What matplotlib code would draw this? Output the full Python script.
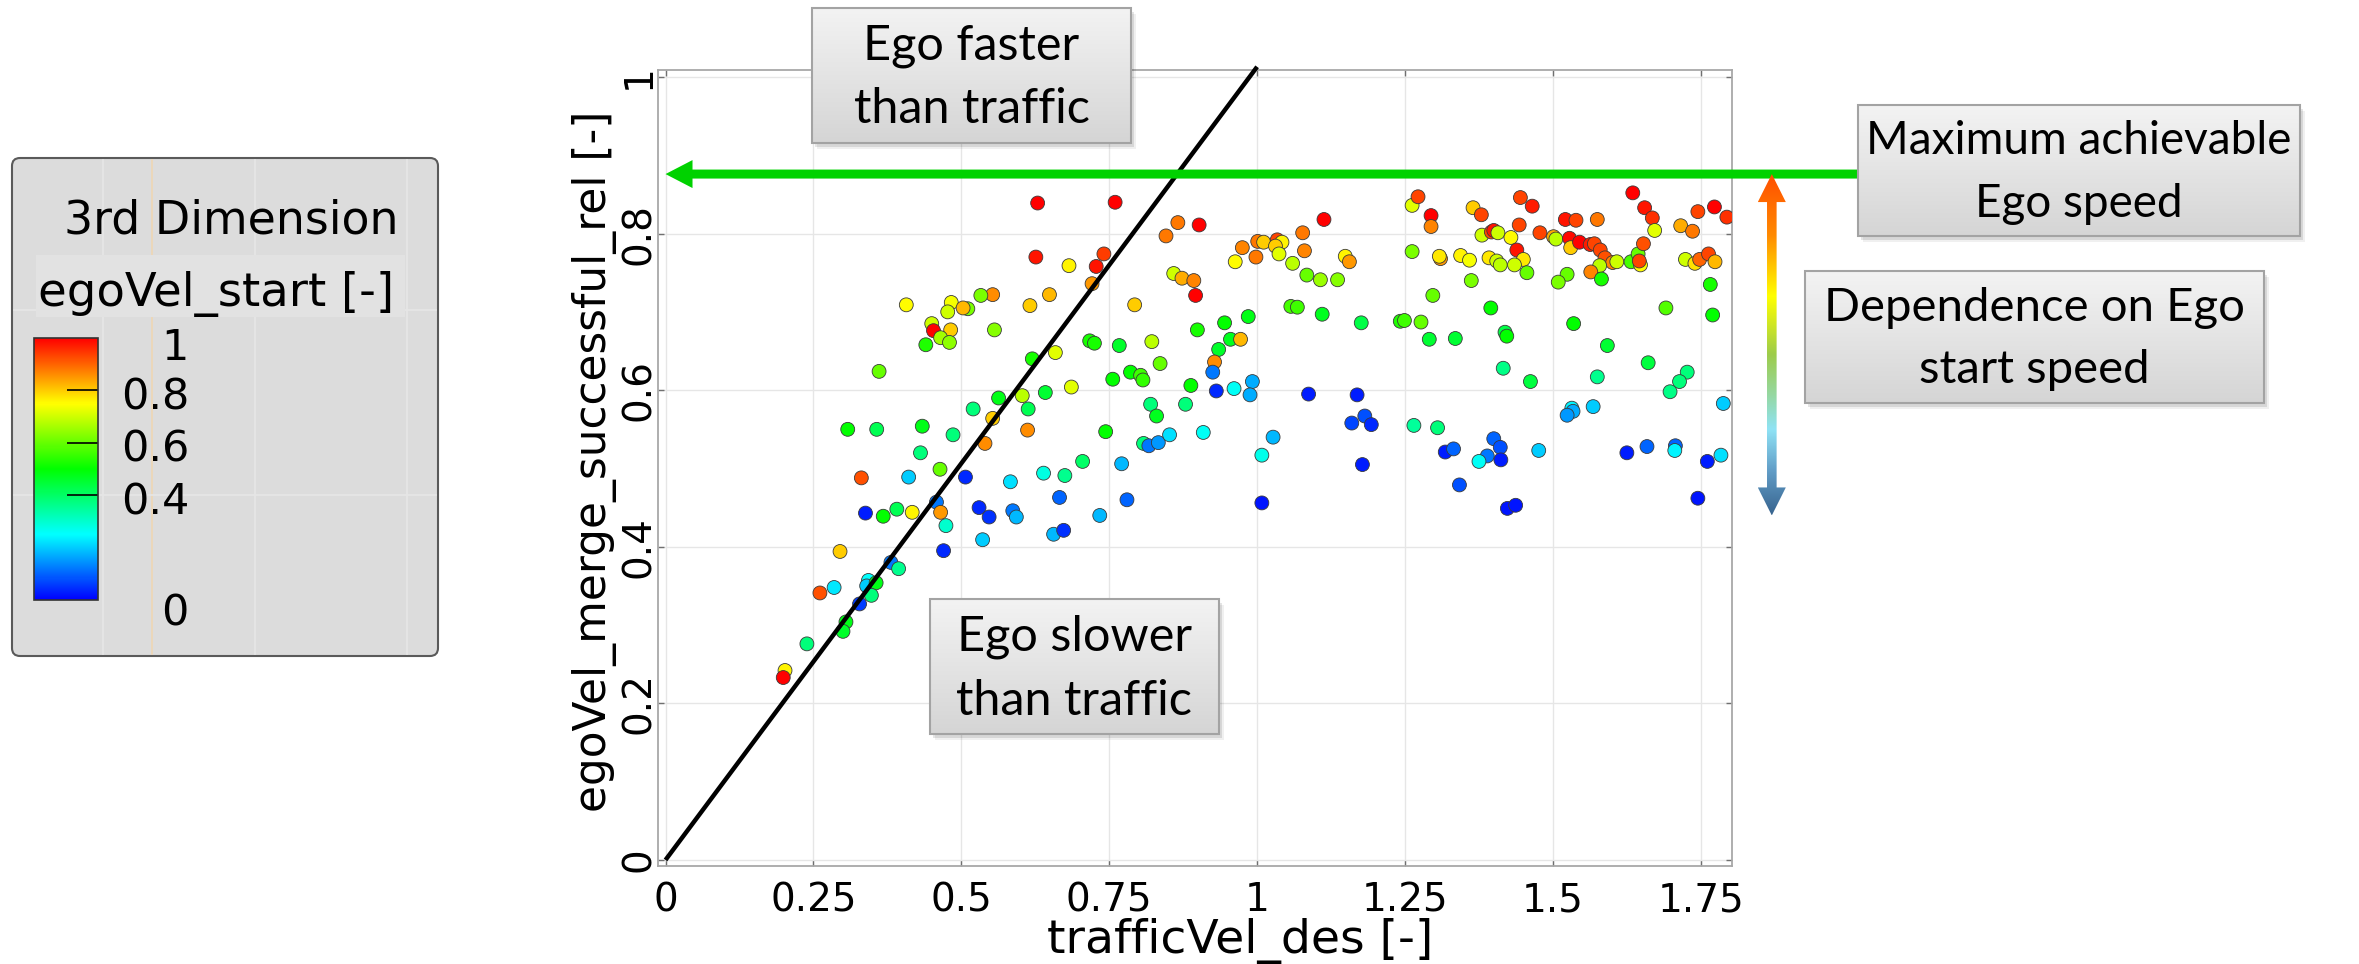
import numpy as np
import matplotlib
matplotlib.use('Agg')
import matplotlib.pyplot as plt
import matplotlib.transforms as mtransforms
from matplotlib.colors import LinearSegmentedColormap
from matplotlib.patches import Rectangle, FancyBboxPatch, FancyArrow, Polygon

plt.rcParams['font.family'] = ['DejaVu Sans']

W, H = 2359, 964

# ---- data ----
traffic_vel = [
    0.629, 0.626, 0.682, 0.728, 0.741, 0.721, 0.649, 0.616, 0.553, 0.533,
    0.407, 0.483, 0.477, 0.511, 0.503, 0.450, 0.453, 0.482, 0.465, 0.480,
    0.440, 0.556, 0.361, 0.717, 0.725, 0.620, 0.659, 0.686, 0.642, 0.603,
    0.563, 0.520, 0.613, 0.553, 0.612, 0.540, 0.308, 0.357, 0.434, 0.486,
    0.431, 0.464, 0.705, 0.639, 0.744,
    0.760, 0.866, 0.846, 0.902, 0.859, 0.873, 0.893, 0.896, 0.793, 0.767,
    0.822, 0.836, 0.756, 0.786, 0.803, 0.807, 0.899, 0.945, 0.985, 0.955,
    0.972, 0.935, 0.928, 0.925, 0.888, 0.931, 0.961, 0.992, 0.988, 1.087,
    1.169, 1.160, 1.182, 1.193, 1.178, 1.265, 0.820, 0.830, 0.879, 0.808,
    0.817, 0.833, 0.852, 0.909, 1.027, 1.008, 0.771, 0.963, 0.975, 0.998,
    1.001, 1.011, 1.034, 1.042, 1.031, 1.037, 1.060, 1.077, 1.080, 1.113,
    1.084, 1.107, 1.136, 1.057, 1.068, 1.110, 1.176, 1.149, 1.156, 1.242,
    1.249, 1.277, 1.262, 1.262, 1.272,
    1.294, 1.294, 1.297, 1.291, 1.310, 1.308, 1.344, 1.359, 1.365, 1.379,
    1.380, 1.396, 1.400, 1.407, 1.429, 1.443, 1.445, 1.465, 1.439, 1.450,
    1.392, 1.405, 1.411, 1.435, 1.456, 1.362, 1.478, 1.501, 1.505, 1.521,
    1.539, 1.575, 1.528, 1.530, 1.545, 1.563, 1.570, 1.580, 1.588, 1.601,
    1.579, 1.608, 1.564, 1.582, 1.524, 1.509, 1.632, 1.644, 1.648, 1.646,
    1.653, 1.635, 1.655, 1.668, 1.672, 1.716, 1.736, 1.745, 1.773, 1.794,
    1.724, 1.740, 1.748, 1.763, 1.774, 1.766, 1.770, 1.691, 1.395, 1.535,
    1.335, 1.419, 1.422, 1.592, 1.661, 1.416, 1.462, 1.575, 1.727, 1.714,
    1.698, 1.788, 1.305, 1.318, 1.332, 1.400, 1.411, 1.389, 1.375, 1.412,
    1.476, 1.532, 1.534, 1.524, 1.568, 1.625, 1.659, 1.707, 1.706, 1.761,
    1.784,
    1.342, 1.423, 1.437, 1.745, 0.780, 1.008,
    0.331, 0.411, 0.507, 0.583, 0.675, 0.666, 0.338, 0.368, 0.391, 0.417,
    0.458, 0.465, 0.474, 0.470, 0.530, 0.547, 0.587, 0.593, 0.536, 0.656,
    0.673, 0.734, 0.295, 0.261, 0.285, 0.381, 0.394, 0.343, 0.340, 0.356,
    0.348, 0.328, 0.305, 0.300, 0.239, 0.202, 0.199,
]
ego_vel_merge = [
    0.839, 0.770, 0.759, 0.758, 0.774, 0.736, 0.722, 0.708, 0.722, 0.721,
    0.709, 0.712, 0.700, 0.704, 0.705, 0.685, 0.676, 0.677, 0.667, 0.661,
    0.658, 0.677, 0.624, 0.663, 0.660, 0.640, 0.648, 0.604, 0.597, 0.593,
    0.590, 0.576, 0.576, 0.564, 0.549, 0.532, 0.550, 0.550, 0.554, 0.543,
    0.520, 0.499, 0.509, 0.494, 0.547,
    0.840, 0.814, 0.797, 0.811, 0.749, 0.743, 0.740, 0.721, 0.709, 0.657,
    0.662, 0.634, 0.614, 0.623, 0.619, 0.613, 0.677, 0.686, 0.694, 0.665,
    0.665, 0.652, 0.636, 0.623, 0.606, 0.599, 0.602, 0.611, 0.594, 0.595,
    0.594, 0.558, 0.567, 0.556, 0.505, 0.555, 0.582, 0.567, 0.582, 0.532,
    0.529, 0.533, 0.543, 0.546, 0.540, 0.517, 0.506, 0.764, 0.782, 0.770,
    0.790, 0.789, 0.792, 0.789, 0.784, 0.774, 0.762, 0.801, 0.778, 0.818,
    0.747, 0.741, 0.741, 0.707, 0.706, 0.697, 0.686, 0.771, 0.764, 0.688,
    0.689, 0.687, 0.777, 0.836, 0.847,
    0.823, 0.809, 0.721, 0.665, 0.768, 0.771, 0.772, 0.766, 0.833, 0.824,
    0.798, 0.802, 0.804, 0.801, 0.795, 0.811, 0.846, 0.835, 0.779, 0.767,
    0.769, 0.765, 0.760, 0.760, 0.750, 0.740, 0.801, 0.796, 0.793, 0.818,
    0.817, 0.818, 0.794, 0.782, 0.789, 0.786, 0.787, 0.779, 0.769, 0.763,
    0.759, 0.764, 0.751, 0.742, 0.748, 0.738, 0.764, 0.774, 0.760, 0.765,
    0.787, 0.852, 0.833, 0.820, 0.804, 0.810, 0.803, 0.828, 0.834, 0.821,
    0.767, 0.762, 0.767, 0.774, 0.764, 0.735, 0.696, 0.705, 0.705, 0.685,
    0.666, 0.674, 0.669, 0.657, 0.635, 0.628, 0.611, 0.617, 0.623, 0.611,
    0.598, 0.583, 0.552, 0.521, 0.525, 0.538, 0.527, 0.516, 0.509, 0.511,
    0.523, 0.577, 0.573, 0.568, 0.579, 0.520, 0.528, 0.529, 0.523, 0.509,
    0.517,
    0.479, 0.449, 0.453, 0.462, 0.460, 0.456,
    0.488, 0.489, 0.489, 0.483, 0.491, 0.463, 0.443, 0.439, 0.448, 0.444,
    0.457, 0.444, 0.427, 0.395, 0.450, 0.438, 0.446, 0.438, 0.409, 0.416,
    0.421, 0.440, 0.394, 0.341, 0.348, 0.380, 0.372, 0.357, 0.350, 0.354,
    0.338, 0.327, 0.304, 0.292, 0.276, 0.242, 0.233,
]
ego_vel_start = [
    1.00, 0.98, 0.76, 0.98, 0.94, 0.85, 0.82, 0.80, 0.86, 0.62,
    0.75, 0.74, 0.70, 0.62, 0.82, 0.70, 1.00, 0.80, 0.66, 0.64,
    0.53, 0.63, 0.60, 0.52, 0.52, 0.52, 0.72, 0.72, 0.45, 0.68,
    0.48, 0.38, 0.42, 0.80, 0.86, 0.86, 0.50, 0.42, 0.48, 0.38,
    0.38, 0.60, 0.40, 0.28, 0.50,
    1.00, 0.88, 0.88, 1.00, 0.70, 0.83, 0.87, 1.00, 0.80, 0.46,
    0.68, 0.60, 0.50, 0.50, 0.56, 0.55, 0.52, 0.50, 0.48, 0.47,
    0.82, 0.46, 0.86, 0.12, 0.50, 0.04, 0.26, 0.17, 0.17, 0.03,
    0.03, 0.07, 0.08, 0.04, 0.03, 0.35, 0.38, 0.47, 0.38, 0.38,
    0.12, 0.15, 0.22, 0.26, 0.18, 0.27, 0.18, 0.75, 0.87, 0.88,
    0.88, 0.80, 0.93, 0.76, 0.80, 0.72, 0.68, 0.88, 0.87, 1.00,
    0.60, 0.65, 0.63, 0.57, 0.56, 0.47, 0.43, 0.76, 0.85, 0.53,
    0.56, 0.60, 0.62, 0.72, 0.93,
    1.00, 0.87, 0.60, 0.45, 0.85, 0.77, 0.76, 0.74, 0.80, 0.93,
    0.70, 0.93, 0.98, 0.70, 0.75, 0.93, 0.93, 0.97, 0.98, 0.77,
    0.77, 0.70, 0.68, 0.70, 0.60, 0.62, 0.93, 0.83, 0.68, 0.98,
    0.93, 0.88, 0.99, 0.80, 1.00, 0.97, 0.93, 0.93, 0.92, 0.87,
    0.68, 0.70, 0.87, 0.52, 0.60, 0.62, 0.57, 0.60, 0.75, 0.93,
    0.92, 1.00, 0.98, 0.95, 0.72, 0.83, 0.88, 0.93, 1.00, 0.95,
    0.70, 0.78, 0.90, 0.93, 0.82, 0.52, 0.50, 0.58, 0.50, 0.50,
    0.45, 0.43, 0.50, 0.45, 0.44, 0.37, 0.44, 0.36, 0.38, 0.38,
    0.37, 0.20, 0.38, 0.03, 0.10, 0.10, 0.08, 0.12, 0.26, 0.03,
    0.20, 0.24, 0.17, 0.15, 0.20, 0.03, 0.10, 0.10, 0.24, 0.03,
    0.22,
    0.08, 0.02, 0.02, 0.02, 0.10, 0.02,
    0.92, 0.20, 0.04, 0.22, 0.36, 0.10, 0.03, 0.50, 0.42, 0.76,
    0.12, 0.85, 0.30, 0.04, 0.04, 0.05, 0.12, 0.18, 0.20, 0.18,
    0.05, 0.18, 0.80, 0.92, 0.23, 0.12, 0.36, 0.25, 0.20, 0.48,
    0.38, 0.06, 0.48, 0.46, 0.38, 0.76, 1.00,
]

x_ticks = [0, 0.25, 0.5, 0.75, 1, 1.25, 1.5, 1.75]
x_tick_labels = ['0', '0.25', '0.5', '0.75', '1', '1.25', '1.5', '1.75']
y_ticks = [0, 0.2, 0.4, 0.6, 0.8, 1]
y_tick_labels = ['0', '0.2', '0.4', '0.6', '0.8', '1']
cbar_ticks = [0.4, 0.6, 0.8]
cbar_label_values = [0, 0.4, 0.6, 0.8, 1]
cbar_labels = ['0', '0.4', '0.6', '0.8', '1']

diag_x = [0, 1.0]           # Ego speed == traffic speed reference line
diag_y = [0, 1.013]
max_ego_speed = 0.876       # green "maximum achievable" level
dep_low = 0.44              # lower end of the start-speed arrow
dep_x = 1.87                # x position of the start-speed arrow

rainbow = LinearSegmentedColormap.from_list(
    'rainbow5', ['#0000ff', '#00ffff', '#00ff00', '#ffff00', '#ff0000'])

fig = plt.figure(figsize=(W / 100, H / 100), dpi=100)

# ---- main scatter axes ----
ax = fig.add_axes([658 / W, 1 - 866 / H, (1732 - 658) / W, (866 - 70) / H], zorder=1)
ax.set_xlim(-0.0127, 1.8027)
ax.set_ylim(-0.0077, 1.0089)
ax.grid(True, color='#e6e6e6', lw=1)
ax.set_axisbelow(True)
ax.set_xticks(x_ticks)
ax.set_xticklabels(x_tick_labels)
ax.set_yticks(y_ticks)
ax.set_yticklabels(y_tick_labels, rotation=90, va='center')
ax.tick_params(direction='in', top=True, right=True, length=4, width=1,
               color='#707070', labelsize=28)
ax.tick_params(axis='x', pad=11)
ax.tick_params(axis='y', pad=0)
for s in ax.spines.values():
    s.set_color('#a8a8a8')
    s.set_linewidth(1.3)

sc = ax.scatter(traffic_vel, ego_vel_merge, c=ego_vel_start, cmap=rainbow,
                vmin=0, vmax=1, s=100, edgecolors='#3a3a3a', linewidths=0.6,
                zorder=3)
ax.plot(diag_x, diag_y, color='black', lw=3.2, zorder=4, clip_on=False,
        solid_capstyle='butt')

ax.set_xlabel('trafficVel_des [-]', fontsize=34)
ax.xaxis.set_label_coords(0.542, -0.0653)
ax.set_ylabel('egoVel_merge_successful_rel [-]', fontsize=31.5)
ax.yaxis.set_label_coords(-0.0385, 0.508)

# ---- overlay in pixel coords for boxes / arrows ----
ov = fig.add_axes([0, 0, 1, 1], zorder=2)
ov.patch.set_alpha(0)
ov.axis('off')


def to_px(x, y):
    dx, dy = ax.transData.transform((x, y))
    return dx, H - dy


box_cmap = LinearSegmentedColormap.from_list('boxgrad', ['#f3f3f3', '#d5d5d5'])
grad = np.linspace(0, 1, 64)[:, None]


def label_box(x0, y0, x1, y1, text, fs):
    w, h = x1 - x0, y1 - y0
    ov.add_patch(Rectangle((x0 + 5, y0 + 6), w, h, fc='black', alpha=0.06, lw=0, zorder=1))
    ov.add_patch(Rectangle((x0 + 3, y0 + 4), w, h, fc='black', alpha=0.10, lw=0, zorder=1))
    ov.imshow(grad, cmap=box_cmap, extent=(x0, x1, y1, y0), origin='upper',
              aspect='auto', interpolation='bilinear', zorder=2)
    ov.add_patch(Rectangle((x0, y0), w, h, fill=False, ec='#a3a3a3', lw=1.5, zorder=3))
    ls = 62 / (0.823 * fs * 100 / 72)
    ov.text((x0 + x1) / 2, (y0 + y1) / 2 + 2, text, ha='center', va='center',
            fontsize=fs, family='Lato', linespacing=ls, zorder=4)


# green "maximum achievable" arrow
gx_tip, gy = to_px(0, max_ego_speed)
ov.add_patch(FancyArrow(1858, gy, gx_tip - 1858, 0, width=9, head_width=28,
                        head_length=27, length_includes_head=True,
                        fc='#00d200', ec='none', zorder=1))

# gradient double arrow for start-speed dependence
ax_x, top_y = to_px(dep_x, max_ego_speed)
_, bot_y = to_px(dep_x, dep_low)
hw, sw, hl = 14, 4.8, 28
arrow_pts = [(ax_x, top_y), (ax_x + hw, top_y + hl), (ax_x + sw, top_y + hl),
             (ax_x + sw, bot_y - hl), (ax_x + hw, bot_y - hl), (ax_x, bot_y),
             (ax_x - hw, bot_y - hl), (ax_x - sw, bot_y - hl),
             (ax_x - sw, top_y + hl), (ax_x - hw, top_y + hl)]
arrow_poly = Polygon(arrow_pts, closed=True, fc='none', ec='none')
ov.add_patch(arrow_poly)
dep_cmap = LinearSegmentedColormap.from_list('dep', [
    (0.0, '#ff4e00'), (0.18, '#ff8a00'), (0.36, '#ffff00'), (0.53, '#9dcc4a'),
    (0.65, '#95d8a2'), (0.75, '#8fe3f5'), (0.87, '#629ec8'), (1.0, '#38648f')])
im = ov.imshow(np.linspace(0, 1, 256)[:, None], cmap=dep_cmap,
               extent=(ax_x - hw, ax_x + hw, bot_y, top_y), origin='upper',
               aspect='auto', interpolation='bilinear', zorder=2)
im.set_clip_path(arrow_poly)

label_box(812, 8, 1131, 143, 'Ego faster\nthan traffic', 35)
label_box(930, 599, 1219, 734, 'Ego slower\nthan traffic', 35)
label_box(1858, 105, 2300, 236, 'Maximum achievable\nEgo speed', 33)
label_box(1805, 271, 2264, 403, 'Dependence on Ego\nstart speed', 34)

# ---- "3rd Dimension" colour legend panel ----
ov.add_patch(FancyBboxPatch((12, 158), 426, 498,
                            boxstyle='round,pad=0,rounding_size=8',
                            fc='#dcdcdc', ec='#5a5a5a', lw=1.5, zorder=1))
for lx, col in [(103, '#e6e6e6'), (255, '#e6e6e6'), (407, '#e6e6e6'), (152, '#efd7b4')]:
    ov.plot([lx, lx], [160, 654], color=col, lw=1.2, zorder=1.5)
for ly in [310, 495]:
    ov.plot([14, 436], [ly, ly], color='#e6e6e6', lw=1.2, zorder=1.5)
ov.add_patch(Rectangle((36, 255), 369, 62, fc='#e2e2e2', ec='none', zorder=1.6))
ov.text(231, 233, '3rd Dimension', ha='center', va='baseline', fontsize=33, zorder=3)
ov.text(216, 306, 'egoVel_start [-]', ha='center', va='baseline', fontsize=33.5, zorder=3)

cax = fig.add_axes([34 / W, 1 - 600 / H, 64 / W, 262 / H], zorder=3)
cb = fig.colorbar(sc, cax=cax)
cb.set_ticks(cbar_ticks)
cax.tick_params(direction='in', length=22, width=1.2, color='black',
                right=True, left=False, labelright=False, labelleft=False)
cb.outline.set_edgecolor('#333333')
cb.outline.set_linewidth(1.2)

base_trans = mtransforms.blended_transform_factory(ov.transData, cax.transData)
label_offsets = [14, 7, 7, 7, 10]   # px below each value (matches panel look)
for v, lab, off in zip(cbar_label_values, cbar_labels, label_offsets):
    tr = mtransforms.offset_copy(base_trans, fig=fig, y=-off, units='dots')
    ov.text(189, v, lab, transform=tr, ha='right', va='center',
            fontsize=31, zorder=3)

ov.set_xlim(0, W)
ov.set_ylim(H, 0)

fig.savefig('out.png', dpi=100)
